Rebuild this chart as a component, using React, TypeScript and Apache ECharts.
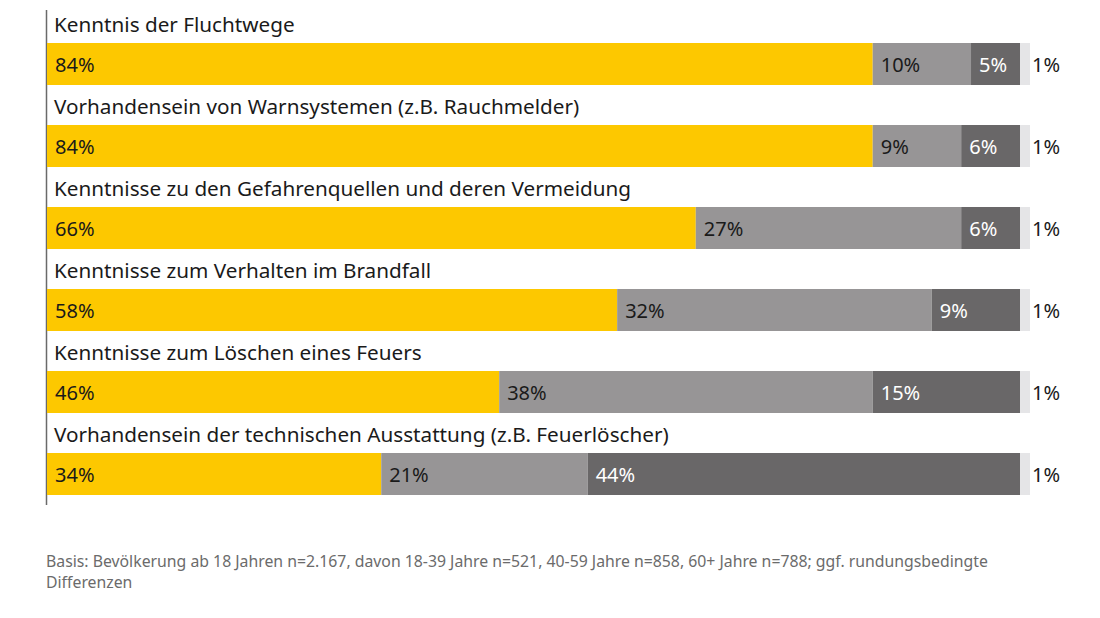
import React, { useEffect, useRef } from "react";
import * as echarts from "echarts";

const categories = [
  "Kenntnis der Fluchtwege",
  "Vorhandensein von Warnsystemen (z.B. Rauchmelder)",
  "Kenntnisse zu den Gefahrenquellen und deren Vermeidung",
  "Kenntnisse zum Verhalten im Brandfall",
  "Kenntnisse zum Löschen eines Feuers",
  "Vorhandensein der technischen Ausstattung (z.B. Feuerlöscher)",
];
const seriesA = [84, 84, 66, 58, 46, 34];
const seriesB = [10, 9, 27, 32, 38, 21];
const seriesC = [5, 6, 6, 9, 15, 44];
const seriesD = [1, 1, 1, 1, 1, 1];
const footnote =
  "Basis: Bevölkerung ab 18 Jahren n=2.167, davon 18-39 Jahre n=521, 40-59 Jahre n=858, 60+ Jahre n=788; ggf. rundungsbedingte\nDifferenzen";

const FONT = "'Noto Sans', sans-serif";

export default function App() {
  const ref = useRef<HTMLDivElement>(null);
  useEffect(() => {
    if (!ref.current) return;
    const chart = echarts.init(ref.current, null, { renderer: "svg" });
    const mk = (name: string, data: number[], color: string, textColor: string, pos: string, dist: number) => ({
      name,
      type: "bar",
      stack: "all",
      data,
      barWidth: 42,
      itemStyle: { color },
      label: {
        show: true,
        position: pos,
        distance: dist,
        formatter: (p: any) => p.value + "%",
        color: textColor,
        fontFamily: FONT,
        fontSize: 20,
      },
      emphasis: { disabled: true },
    });
    chart.setOption({
      animation: false,
      textStyle: { fontFamily: FONT },
      grid: { left: 47, right: 70, top: 23, height: 492, containLabel: false },
      xAxis: { type: "value", min: 0, max: 100, show: false },
      yAxis: {
        type: "category",
        data: categories,
        inverse: true,
        axisLine: { show: false },
        axisTick: { show: false },
        splitLine: { show: false },
        axisLabel: {
          inside: true,
          margin: 7,
          align: "left",
          verticalAlign: "bottom",
          padding: [0, 0, 27, 0],
          lineHeight: 26,
          fontSize: 20.7,
          color: "#1a1a1a",
          fontFamily: FONT,
        },
      },
      series: [
        mk("a", seriesA, "#FDC800", "#1a1a1a", "insideLeft", 8),
        mk("b", seriesB, "#979596", "#1a1a1a", "insideLeft", 8),
        mk("c", seriesC, "#696768", "#ffffff", "insideLeft", 8),
        mk("d", seriesD, "#e5e5e7", "#1a1a1a", "right", 2),
      ],
      graphic: [
        {
          type: "line",
          shape: { x1: 46.5, y1: 10, x2: 46.5, y2: 505 },
          style: { stroke: "#6a6a6a", lineWidth: 1.5 },
          silent: true,
        },
        {
          type: "text",
          left: 46,
          top: 550,
          style: {
            text: footnote,
            fontFamily: FONT,
            fontSize: 15.8,
            lineHeight: 21,
            fill: "#6b6b6b",
          },
          silent: true,
        },
      ],
    });
    return () => chart.dispose();
  }, []);
  return (
    <div
      ref={ref}
      style={{ position: "absolute", left: 0, top: 0, width: 1100, height: 618, background: "#fff" }}
    />
  );
}
